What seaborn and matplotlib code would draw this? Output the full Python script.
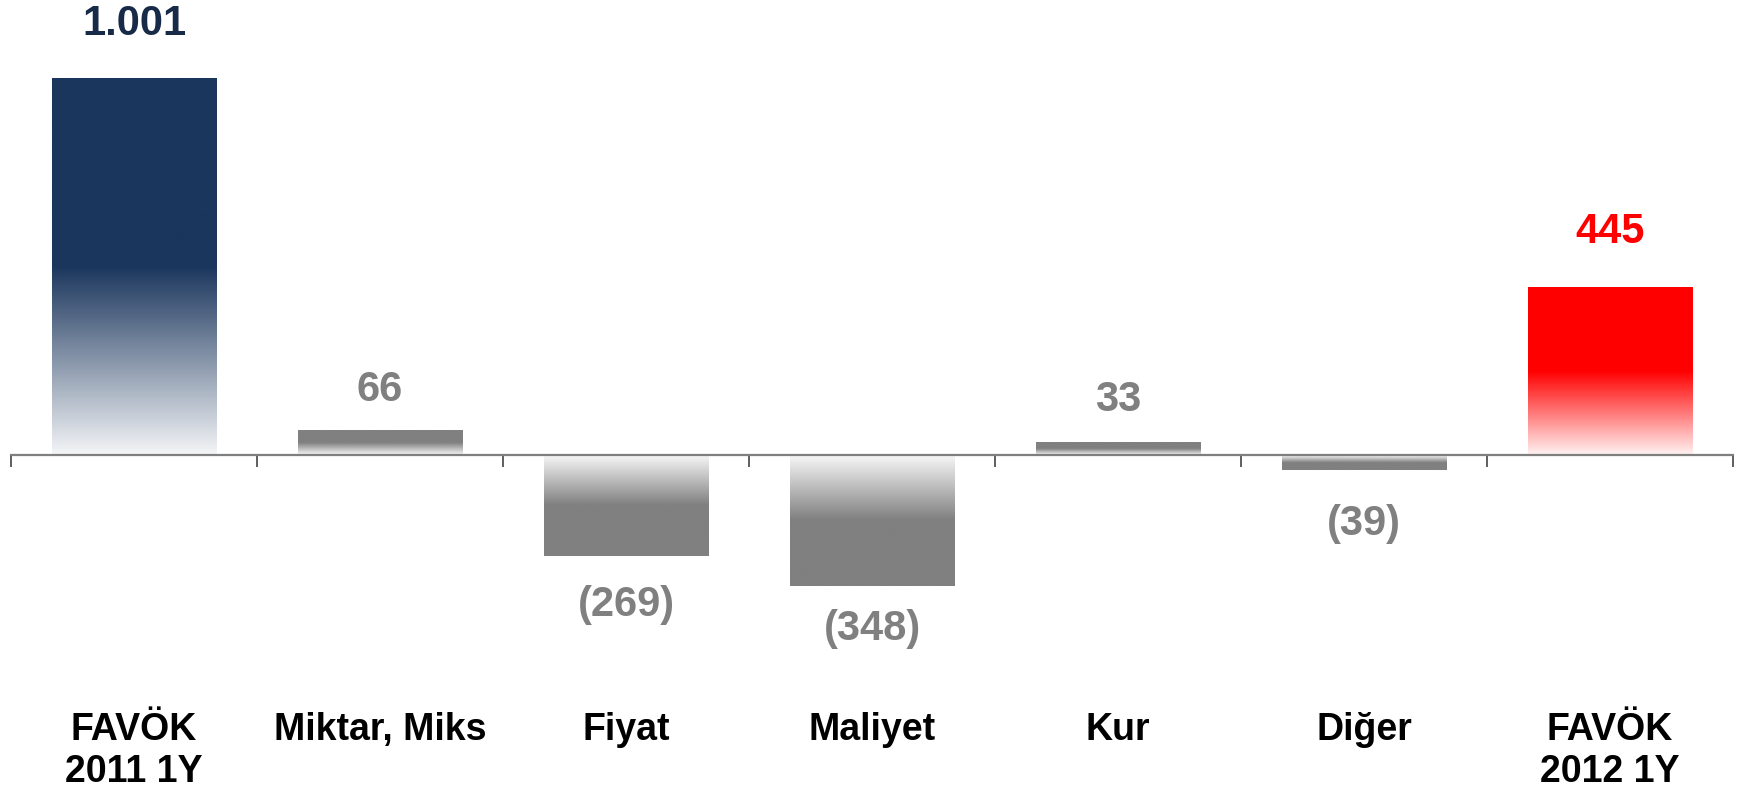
import numpy as np
import pandas as pd
import matplotlib
matplotlib.use("Agg")
import matplotlib.pyplot as plt
import seaborn as sns
from matplotlib.colors import to_rgb

# EBITDA bridge, 2011 -> 2012 (million TL)
categories = ["FAVÖK\n2011 1Y", "Miktar, Miks", "Fiyat", "Maliyet", "Kur", "Diğer", "FAVÖK\n2012 1Y"]
values = [1001, 66, -269, -348, 33, -39, 445]
value_labels = ["1.001", "66", "(269)", "(348)", "33", "(39)", "445"]

NAVY = "#1b365d"
GRAY = "#808080"
RED = "#ff0000"
bar_colors = [NAVY, GRAY, GRAY, GRAY, GRAY, GRAY, RED]
label_colors = ["#172a48", GRAY, GRAY, GRAY, GRAY, GRAY, RED]
# distance of each value label from its bar end, in points
label_offsets = [39, 29, 35, 31, 31, 39, 40]

sns.set_theme(style="white")
plt.rcParams["font.family"] = ["Liberation Sans", "DejaVu Sans"]

W, H, DPI = 1748, 788, 100
fig = plt.figure(figsize=(W / DPI, H / DPI), dpi=DPI)
ax = fig.add_axes([11 / W, 0, (1733 - 11) / W, 1])

df = pd.DataFrame({"cat": categories, "val": values})
sns.barplot(data=df, x="cat", y="val", hue="cat", palette=bar_colors,
            width=0.667, legend=False, ax=ax, saturation=1)


def gradient_fill(patch, color):
    """Replace a flat bar with a fill that fades to white toward the baseline."""
    x0 = patch.get_x()
    w = patch.get_width()
    y0 = patch.get_y()
    h = patch.get_height()
    ylo, yhi = min(y0, y0 + h), max(y0, y0 + h)
    n = 256
    t = np.linspace(0, 1, n)            # 0 at baseline, 1 at bar end
    a = 0.05 + 0.95 * np.clip(t / 0.5, 0, 1)
    rgb = np.array(to_rgb(color))
    col = (1 - a)[:, None] * 1.0 + a[:, None] * rgb[None, :]
    if h < 0:
        col = col[::-1]                 # row 0 sits at the bar end for negatives
    img = col[:, None, :]
    ax.imshow(img, extent=(x0, x0 + w, ylo, yhi), origin="lower",
              aspect="auto", interpolation="bilinear", zorder=2)
    patch.set_visible(False)


for patch, c in zip(list(ax.patches), bar_colors):
    gradient_fill(patch, c)

# value labels
for i, (v, txt, c, off) in enumerate(zip(values, value_labels, label_colors, label_offsets)):
    ax.annotate(txt, (i, v), xytext=(0, off if v >= 0 else -off),
                textcoords="offset points", ha="center", va="center",
                fontsize=30, fontweight="bold", color=c, zorder=5)

k = 377 / 1001  # pixels per unit
ax.set_ylim(-333 / k, 455 / k)
ax.set_xlim(-0.5, len(categories) - 0.5)

for s in ("top", "right", "left"):
    ax.spines[s].set_visible(False)
ax.spines["bottom"].set_position(("data", 0))
ax.spines["bottom"].set_color("#7f7f7f")
ax.spines["bottom"].set_linewidth(1.6)
ax.spines["bottom"].set_zorder(4)

ax.set_yticks([])
ax.set_xticks(range(len(categories)))
ax.set_xticklabels(categories, fontsize=27, fontweight="bold", color="black",
                   linespacing=1.2)
ax.set_xticks(np.arange(-0.5, len(categories)), minor=True)
ax.tick_params(axis="x", which="major", length=0, pad=185)
ax.tick_params(axis="x", which="minor", direction="out", length=8.5,
               width=1.1, color="#333333", bottom=True)
ax.set_xlabel("")
ax.set_ylabel("")

fig.savefig("out.png", dpi=DPI)
